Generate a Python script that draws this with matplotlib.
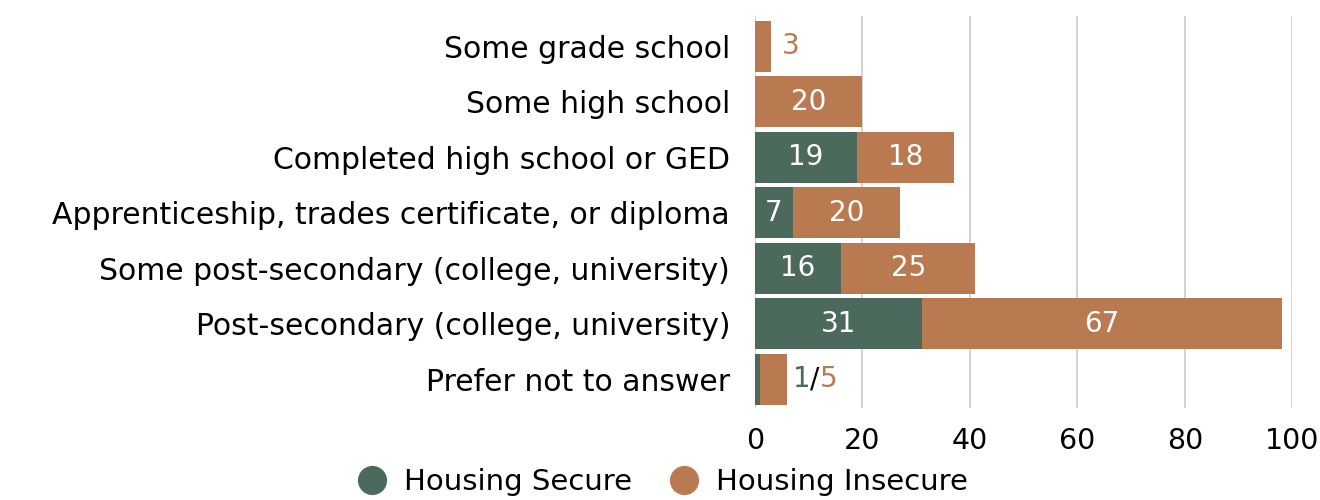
import matplotlib
matplotlib.use("Agg")
import matplotlib.pyplot as plt

categories = [
    "Some grade school",
    "Some high school",
    "Completed high school or GED",
    "Apprenticeship, trades certificate, or diploma",
    "Some post-secondary (college, university)",
    "Post-secondary (college, university)",
    "Prefer not to answer",
]
secure = [0, 0, 19, 7, 16, 31, 1]
insecure = [3, 20, 18, 20, 25, 67, 5]
xticks = [0, 20, 40, 60, 80, 100]

GREEN = "#4C6A5C"
ORANGE = "#BA7A51"
FONT = "DejaVu Sans"

plt.rcParams['font.family'] = [FONT]

fig = plt.figure(figsize=(13.2, 5.0), dpi=100)
ax = fig.add_axes([0.572, 0.184, 0.407, 0.784])

y = list(range(len(categories)))
h = 0.92
ax.barh(y, secure, height=h, color=GREEN, zorder=2)
ax.barh(y, insecure, left=secure, height=h, color=ORANGE, zorder=2)

fs = 20
for i, (s, ins) in enumerate(zip(secure, insecure)):
    if categories[i] == "Prefer not to answer":
        x0 = s + ins + 1.0
        t1 = ax.text(x0, i, str(s), color=GREEN, va='center', ha='left', fontsize=fs, zorder=3)
        t2 = ax.annotate("/", xycoords=t1, xy=(1, 0), va='bottom', ha='left', color='black', fontsize=fs)
        ax.annotate(str(ins), xycoords=t2, xy=(1, 0), va='bottom', ha='left', color=ORANGE, fontsize=fs)
        continue
    if s > 0:
        ax.text(s / 2, i, str(s), color='white', va='center', ha='center', fontsize=fs, zorder=3)
    if ins >= 10:
        ax.text(s + ins / 2, i, str(ins), color='white', va='center', ha='center', fontsize=fs, zorder=3)
    else:
        ax.text(s + ins + 2.0, i, str(ins), color=ORANGE, va='center', ha='left', fontsize=fs, zorder=3)

ax.set_ylim(len(categories) - 0.5 + 0.02, -0.5 - 0.05)
ax.set_xlim(0, 100)
ax.set_xticks(xticks)
ax.set_xticklabels([str(v) for v in xticks])
ax.set_yticks(y)
ax.set_yticklabels(categories)
ax.tick_params(axis='y', length=0, labelsize=21.5, colors='black', pad=18)
ax.tick_params(axis='x', length=0, labelsize=20.5, colors='black', pad=14)
ax.grid(axis='x', color='#CCCCCC', linewidth=1.2, zorder=0)
for sp in ax.spines.values():
    sp.set_visible(False)

handles = [
    plt.Line2D([], [], marker='o', linestyle='', markersize=20, color=GREEN, label="Housing Secure"),
    plt.Line2D([], [], marker='o', linestyle='', markersize=20, color=ORANGE, label="Housing Insecure"),
]
fig.legend(handles=handles, loc='center', bbox_to_anchor=(0.502, 0.036), ncol=2, frameon=False,
           fontsize=21, handletextpad=0.6, columnspacing=1.3, handlelength=1.0)

fig.savefig("out.png", dpi=100)
